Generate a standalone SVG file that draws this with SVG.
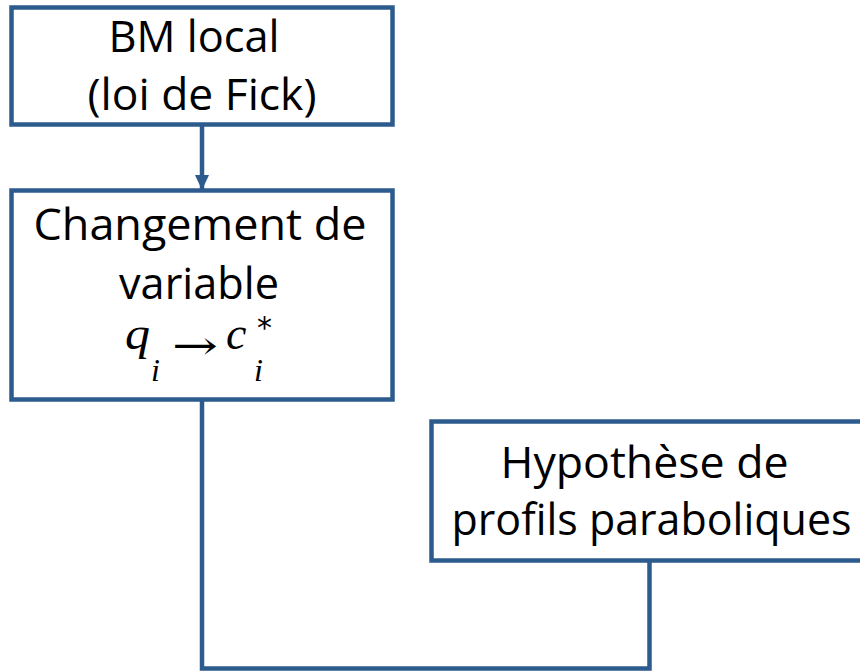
<svg xmlns="http://www.w3.org/2000/svg" width="860" height="672" viewBox="0 0 860 672">
  <style>
    .box { fill: #ffffff; stroke: #2d5b8e; stroke-width: 4.5; }
    .lbl { font-family: "Open Sans", "Liberation Sans", sans-serif; font-size: 43px; fill: #000000; text-anchor: middle; }
    .math { font-family: "Liberation Serif", "DejaVu Serif", serif; font-style: italic; fill: #000000; }
    .conn { fill: none; stroke: #2d5b8e; stroke-width: 4.5; }
  </style>
  <defs>
    <marker id="arrow" viewBox="0 0 15 14" markerWidth="15" markerHeight="14" refX="14" refY="7" orient="auto" markerUnits="userSpaceOnUse">
      <path d="M0,0 L15,7 L0,14 z" fill="#2d5b8e"/>
    </marker>
  </defs>
  <rect width="860" height="672" fill="#ffffff"/>
  <g id="connectors">
    <path class="conn" d="M202,124.5 V189" marker-end="url(#arrow)"/>
    <path class="conn" d="M202,399.5 V668.5 H649.5 V560.5"/>
  </g>
  <g id="node-bm-local">
    <rect class="box" x="11.5" y="7.5" width="381" height="117"/>
    <text class="lbl" x="194" y="52" textLength="171" lengthAdjust="spacingAndGlyphs">BM local</text>
    <text class="lbl" x="202" y="110" textLength="229" lengthAdjust="spacingAndGlyphs">(loi de Fick)</text>
  </g>
  <g id="node-changement">
    <rect class="box" x="11.5" y="190.5" width="381" height="209"/>
    <text class="lbl" x="200" y="240" textLength="333" lengthAdjust="spacingAndGlyphs">Changement de</text>
    <text class="lbl" x="199" y="299" textLength="160" lengthAdjust="spacingAndGlyphs">variable</text>
    <text class="math" x="125" y="349" font-size="46" textLength="25" lengthAdjust="spacingAndGlyphs">q</text>
    <text class="math" x="151" y="381" font-size="32">i</text>
    <text x="172" y="359" font-size="40" font-family="DejaVu Serif, serif" textLength="46" lengthAdjust="spacingAndGlyphs">→</text>
    <text class="math" x="226" y="349" font-size="46">c</text>
    <text class="math" x="254" y="381" font-size="32">i</text>
    <text x="257" y="338" font-size="30" font-family="DejaVu Sans, sans-serif">*</text>
  </g>
  <g id="node-hypothese">
    <rect class="box" x="431.5" y="421.5" width="440" height="139"/>
    <text class="lbl" x="644.5" y="478" textLength="288" lengthAdjust="spacingAndGlyphs">Hypothèse de</text>
    <text class="lbl" x="651.5" y="535" textLength="400" lengthAdjust="spacingAndGlyphs">profils paraboliques</text>
  </g>
</svg>
